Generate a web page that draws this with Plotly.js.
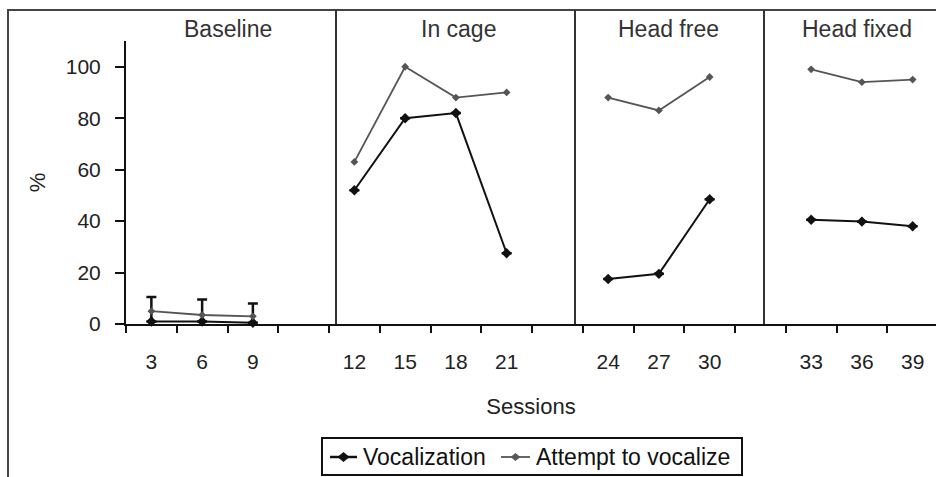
<!DOCTYPE html>
<html>
<head>
<meta charset="utf-8">
<script src="https://cdn.plot.ly/plotly-3.0.1.min.js"></script>
<style>html,body{margin:0;padding:0;background:#fff;}#chart{width:936px;height:477px;}</style>
</head>
<body>
<div id="chart"></div>
<script>
// ---- Data ----
const phases = ['Baseline', 'In cage', 'Head free', 'Head fixed'];
const sessions = [[3, 6, 9], [12, 15, 18, 21], [24, 27, 30], [33, 36, 39]];
const vocalization = [[1, 1, 0.5], [52, 80, 82, 27.5], [17.5, 19.5, 48.5], [40.5, 39.8, 38]];
const attempt = [[5, 3.5, 3], [63, 100, 88, 90], [88, 83, 96], [99, 94, 95]];
const vocalizationErrUp = [[9.5, 8.5, 7.5], [0, 0, 0, 0], [0, 0, 0], [0, 0, 0]];
const gapLabels = [' ', '  ', '   '];
const seriesNames = ['Vocalization', 'Attempt to vocalize'];
const seriesColors = ['#111', '#555'];

// Build category list with a blank category between phases; nulls break the lines.
function build(values, errs) {
  const x = [], y = [], e = [];
  sessions.forEach((s, p) => {
    s.forEach((v, i) => {
      x.push(String(v));
      y.push(values[p][i]);
      e.push(errs ? errs[p][i] : 0);
    });
    if (p < sessions.length - 1) { x.push(gapLabels[p]); y.push(null); e.push(0); }
  });
  return { x, y, e };
}
const voc = build(vocalization, vocalizationErrUp);
const att = build(attempt, null);
const categories = voc.x.slice();

const font = 'Liberation Sans, Arial, Helvetica, sans-serif';

const traces = [
  {
    type: 'scatter', mode: 'lines+markers', name: seriesNames[0],
    x: voc.x, y: voc.y, connectgaps: false,
    line: { color: seriesColors[0], width: 2 },
    marker: { symbol: 'diamond', size: 8, color: seriesColors[0] },
    error_y: { type: 'data', symmetric: false, array: voc.e, arrayminus: voc.e.map(() => 0),
               color: '#111', thickness: 2.5, width: 5 },
    cliponaxis: false
  },
  {
    type: 'scatter', mode: 'lines+markers', name: seriesNames[1],
    x: att.x, y: att.y, connectgaps: false,
    line: { color: seriesColors[1], width: 1.8 },
    marker: { symbol: 'diamond', size: 6, color: seriesColors[1] },
    cliponaxis: false
  }
];

const W = 936, H = 477, L = 126, R = 0, T = 41, B = 153;
const pw = W - L - R, ph = H - T - B;
const px2x = px => (px - L) / pw;
const px2y = py => (H - B - py) / ph;

const dividersPx = [336, 575, 764];
const titlePx = [228, 458, 668, 857];

const shapes = dividersPx.map(xp => ({
  type: 'line', xref: 'paper', yref: 'paper',
  x0: px2x(xp), x1: px2x(xp), y0: 0, y1: px2y(10),
  line: { color: '#333', width: 2 }
}));
// outer chart-area frame
shapes.push({
  type: 'rect', xref: 'paper', yref: 'paper',
  x0: px2x(8), x1: px2x(W + 10), y0: px2y(H + 10), y1: px2y(10),
  line: { color: '#444', width: 2 }, fillcolor: 'rgba(0,0,0,0)', layer: 'below'
});

const annotations = phases.map((p, i) => ({
  text: p, xref: 'paper', yref: 'paper', x: px2x(titlePx[i]), y: px2y(29),
  xanchor: 'center', yanchor: 'middle', showarrow: false,
  font: { family: font, size: 23, color: '#333' }
}));

// ---- Legend box (drawn with shapes + annotations) ----
const legBox = { x0: 322, x1: 742, y0: 438, y1: 475 };
const legCy = 457;
const legItems = [
  { lineX0: 330, lineX1: 357, textX: 361, msize: 4.5, lw: 2.5 },
  { lineX0: 501, lineX1: 530, textX: 534, msize: 3.5, lw: 1.8 }
];
shapes.push({
  type: 'rect', xref: 'paper', yref: 'paper',
  x0: px2x(legBox.x0), x1: px2x(legBox.x1), y0: px2y(legBox.y1), y1: px2y(legBox.y0),
  line: { color: '#111', width: 2 }, fillcolor: '#fff'
});
legItems.forEach((it, i) => {
  shapes.push({
    type: 'line', xref: 'paper', yref: 'paper',
    x0: px2x(it.lineX0), x1: px2x(it.lineX1), y0: px2y(legCy), y1: px2y(legCy),
    line: { color: seriesColors[i], width: it.lw }
  });
  const cx = (it.lineX0 + it.lineX1) / 2, s = it.msize;
  // diamond marker in pixel space converted to paper coordinates
  const pts = [[cx, legCy - s], [cx + s * 1.2, legCy], [cx, legCy + s], [cx - s * 1.2, legCy]]
    .map(([a, b]) => px2x(a) + ',' + px2y(b));
  shapes.push({
    type: 'path', xref: 'paper', yref: 'paper',
    path: 'M' + pts.join('L') + 'Z',
    fillcolor: seriesColors[i], line: { color: seriesColors[i], width: 1 }
  });
  annotations.push({
    text: seriesNames[i], xref: 'paper', yref: 'paper', x: px2x(it.textX), y: px2y(legCy),
    xanchor: 'left', yanchor: 'middle', showarrow: false,
    font: { family: font, size: 23, color: '#111' }
  });
});

const layout = {
  width: W, height: H,
  margin: { l: L, r: R, t: T, b: B, pad: 0 },
  paper_bgcolor: '#fff', plot_bgcolor: '#fff',
  font: { family: font, size: 21, color: '#222' },
  showlegend: false,
  xaxis: {
    type: 'category', categoryorder: 'array', categoryarray: categories,
    range: [-0.5, 15.46], tickson: 'boundaries',
    showline: true, linecolor: '#111', linewidth: 2,
    ticks: 'outside', ticklen: 7, tickwidth: 2, tickcolor: '#111',
    showgrid: false, zeroline: false, fixedrange: true,
    ticklabelstandoff: 18,
    tickfont: { family: font, size: 21, color: '#222' },
    title: { text: 'Sessions', standoff: 26, font: { family: font, size: 22, color: '#222' } }
  },
  yaxis: {
    range: [0, 110], tickmode: 'array', tickvals: [0, 20, 40, 60, 80, 100],
    showline: true, linecolor: '#111', linewidth: 2,
    ticks: 'outside', ticklen: 9, tickwidth: 2, tickcolor: '#111',
    showgrid: false, zeroline: false, fixedrange: true,
    ticklabelstandoff: 10,
    tickfont: { family: font, size: 21, color: '#222' },
    title: { text: '%', standoff: 14, font: { family: font, size: 22, color: '#222' } }
  },
  shapes: shapes,
  annotations: annotations
};

Plotly.newPlot('chart', traces, layout, { displayModeBar: false, staticPlot: true });
</script>
</body>
</html>
